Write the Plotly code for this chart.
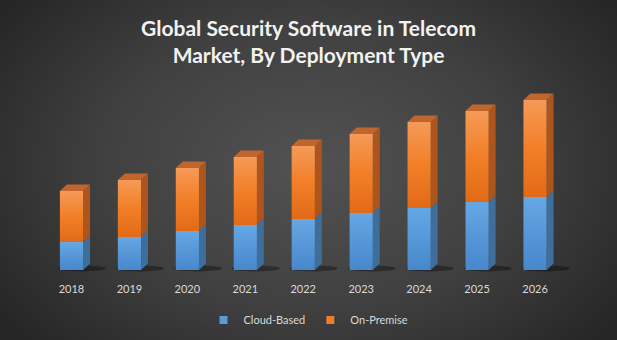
import numpy as np
import plotly.graph_objects as go

years = ['2018', '2019', '2020', '2021', '2022', '2023', '2024', '2025', '2026']
cloud = [2.8, 3.3, 3.9, 4.5, 5.1, 5.7, 6.2, 6.8, 7.3]
onprem = [5.1, 5.7, 6.3, 6.8, 7.3, 7.9, 8.6, 9.1, 9.7]

HW = 0.2    # half bar width (category units)
DX = 0.12   # depth offset x
DY = 0.65   # depth offset y

fig = go.Figure()

# ---- background radial gradient ----
gx = np.linspace(0, 617, 48)
gy = np.linspace(0, 340, 30)
X, Y = np.meshgrid(gx, gy)
R = np.sqrt(((X - 310) / 380.0) ** 2 + ((Y - 175) / 260.0) ** 2)
Z = np.clip(R, 0, 1)
fig.add_trace(go.Heatmap(x=gx, y=gy, z=Z, zmin=0, zmax=1, zsmooth='best',
                         colorscale=[[0, '#525252'], [0.55, '#404040'], [1, '#262626']],
                         showscale=False, hoverinfo='skip', xaxis='x', yaxis='y'))

def poly(pts):
    xs = [p[0] for p in pts] + [pts[0][0]]
    ys = [p[1] for p in pts] + [pts[0][1]]
    return xs, ys

# ---- shadows ----
t = np.linspace(0, 2 * np.pi, 40)
sx, sy = [], []
for i in range(len(years)):
    sx += list(i + 0.18 + 0.42 * np.cos(t)) + [None]
    sy += list(0.15 + 0.3 * np.sin(t)) + [None]
fig.add_trace(go.Scatter(x=sx, y=sy, fill='toself', mode='lines', line=dict(width=0),
                         fillcolor='rgba(0,0,0,0.35)', hoverinfo='skip', showlegend=False,
                         xaxis='x2', yaxis='y2'))

# ---- side faces ----
def side_trace(lo, hi, color):
    xs, ys = [], []
    for i in range(len(years)):
        px, py = poly([(i + HW, lo[i]), (i + HW + DX, lo[i] + DY),
                       (i + HW + DX, hi[i] + DY), (i + HW, hi[i])])
        xs += px + [None]
        ys += py + [None]
    return go.Scatter(x=xs, y=ys, fill='toself', mode='lines', line=dict(width=0),
                      fillcolor=color, hoverinfo='skip', showlegend=False,
                      xaxis='x2', yaxis='y2')

totals = [c + o for c, o in zip(cloud, onprem)]
zeros = [0] * len(years)
fig.add_trace(side_trace(zeros, cloud, '#3d6e9c'))
fig.add_trace(side_trace(cloud, totals, '#ad551c'))

# top faces
xs, ys = [], []
for i in range(len(years)):
    T = totals[i]
    px, py = poly([(i - HW, T), (i - HW + DX, T + DY), (i + HW + DX, T + DY), (i + HW, T)])
    xs += px + [None]
    ys += py + [None]
fig.add_trace(go.Scatter(x=xs, y=ys, fill='toself', mode='lines', line=dict(width=0),
                         fillcolor='#c0652d', hoverinfo='skip', showlegend=False,
                         xaxis='x2', yaxis='y2'))

# ---- front faces with vertical gradient ----
for i in range(len(years)):
    px, py = poly([(i - HW, 0), (i + HW, 0), (i + HW, cloud[i]), (i - HW, cloud[i])])
    fig.add_trace(go.Scatter(x=px, y=py, fill='toself', mode='lines', line=dict(width=0),
                             fillcolor='#5b9bd5',
                             fillgradient=dict(type='vertical',
                                               colorscale=[[0, '#4787cc'], [1, '#66a7e4']]),
                             hoverinfo='skip', showlegend=False, xaxis='x2', yaxis='y2'))
    px, py = poly([(i - HW, cloud[i]), (i + HW, cloud[i]), (i + HW, totals[i]), (i - HW, totals[i])])
    fig.add_trace(go.Scatter(x=px, y=py, fill='toself', mode='lines', line=dict(width=0),
                             fillcolor='#ed7d31',
                             fillgradient=dict(type='vertical',
                                               colorscale=[[0, '#e26a17'], [0.5, '#f27f27'], [1, '#f59a58']]),
                             hoverinfo='skip', showlegend=False, xaxis='x2', yaxis='y2'))

# ---- year labels ----
fig.add_trace(go.Scatter(x=list(range(len(years))), y=[-2.0] * len(years), text=years,
                         mode='text', textfont=dict(color='#d9d9d9', size=11, family='Lato'),
                         hoverinfo='skip', showlegend=False, xaxis='x2', yaxis='y2'))

# ---- legend entries ----
fig.add_trace(go.Scatter(x=[None], y=[None], mode='markers', name='Cloud-Based',
                         marker=dict(symbol='square', size=8, color='#5b9bd5'),
                         xaxis='x2', yaxis='y2'))
fig.add_trace(go.Scatter(x=[None], y=[None], mode='markers', name='On-Premise',
                         marker=dict(symbol='square', size=8, color='#ed7d31'),
                         xaxis='x2', yaxis='y2'))

fig.update_layout(
    width=617, height=340,
    margin=dict(l=0, r=0, t=0, b=0),
    paper_bgcolor='#3a3a3a', plot_bgcolor='rgba(0,0,0,0)',
    title=dict(text='Global Security Software in Telecom<br>Market, By Deployment Type',
               x=0.5, xanchor='center', y=1 - 36 / 340, yanchor='middle',
               font=dict(family='Lato', size=21, color='#f2f2f2', weight='bold')),
    xaxis=dict(domain=[0, 1], range=[0, 617], visible=False, fixedrange=True),
    yaxis=dict(domain=[0, 1], range=[0, 340], visible=False, fixedrange=True),
    xaxis2=dict(domain=[0, 1], range=[-1.234, 9.415], visible=False, anchor='y2'),
    yaxis2=dict(domain=[0, 1], range=[-7, 27], visible=False, anchor='x2'),
    legend=dict(orientation='h', x=0.5, xanchor='center', y=20 / 340, yanchor='middle',
                font=dict(color='#d9d9d9', size=11, family='Lato'),
                bgcolor='rgba(0,0,0,0)', itemwidth=30),
    showlegend=True,
)

fig.write_html('out.html')
